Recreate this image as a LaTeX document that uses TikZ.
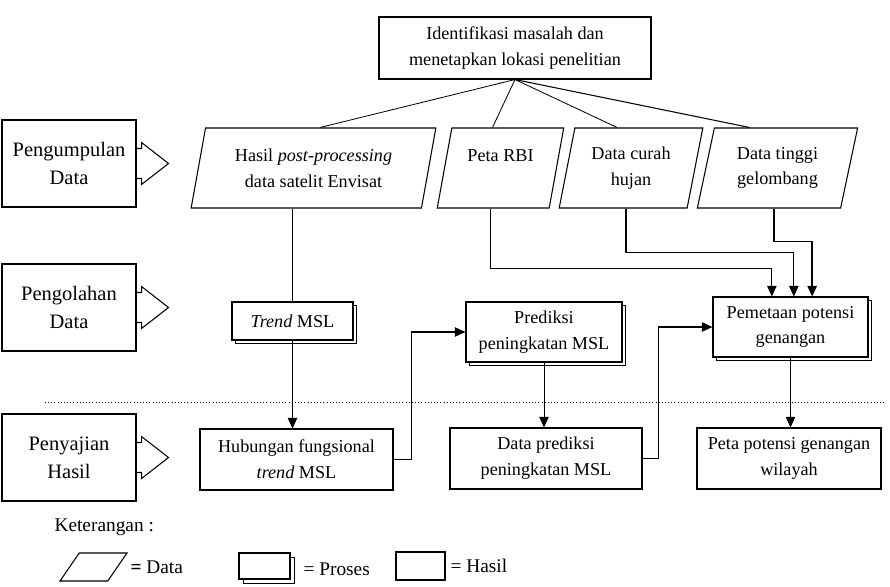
\documentclass[tikz,border=0pt]{standalone}
\usepackage{fontspec}
\setmainfont{Liberation Serif}
\usetikzlibrary{shapes.geometric,arrows.meta,shadows}

\begin{document}
\begin{tikzpicture}[x=0.03cm,y=-0.03cm,
        font=\fontsize{15.5}{22}\selectfont,
        every node/.style={align=center,inner sep=2pt},
        hasil/.style={draw,line width=0.9pt,fill=white},
        proses/.style={hasil,copy shadow={shadow xshift=0.1cm,shadow yshift=-0.1cm}},
        data/.style={draw,line width=0.9pt,trapezium,trapezium left angle=76,
            trapezium right angle=104,trapezium stretches=true,minimum height=2.4cm},
        tahap/.style={draw,line width=0.9pt,minimum width=4.02cm,minimum height=2.61cm,
            font=\fontsize{17.5}{24}\selectfont},
        ket/.style={anchor=west,font=\fontsize{16.5}{20}\selectfont},
        panah/.style={-{Triangle[length=9pt,width=8pt]},line width=0.9pt}]
        \useasboundingbox (0,0) rectangle (890,587);

        % tahapan
        \node[tahap] (kumpul) at (69,163.5) {Pengumpulan\\Data};
        \node[tahap] (olah) at (69,307.5) {Pengolahan\\Data};
        \node[tahap] (saji) at (69,457.5) {Penyajian\\Hasil};
        \foreach \s in {kumpul,olah,saji}
            \draw[line width=0.9pt] (\s.east) ++(0,-15) -- ++(5,0) -- ++(0,-6)
                -- ++(27,21) -- ++(-27,21) -- ++(0,-6) -- ++(-5,0);

        \draw[dotted,line width=0.7pt] (45,402) -- (885,402);

        % identifikasi dan data
        \node[hasil,minimum width=8.16cm,minimum height=1.86cm] (ident) at (515,48)
            {Identifikasi masalah dan\\menetapkan lokasi penelitian};
        \node[data,minimum width=7.35cm] (D1) at (313.5,168)
            {Hasil \textit{post-processing}\\data satelit Envisat};
        \node[data,minimum width=3.81cm] (D2) at (500.5,168) {Peta RBI\\\mbox{}};
        \node[data,minimum width=4.32cm] (D3) at (631,168) {Data curah\\hujan};
        \node[data,minimum width=4.83cm] (D4) at (777.5,168) {Data tinggi\\gelombang};

        \draw[line width=0.7pt] (ident.south) -- ([xshift=0.2cm]D1.north);
        \draw[line width=0.7pt] (ident.south) -- ([xshift=-0.24cm]D2.north);
        \draw[line width=0.7pt] (ident.south) -- ([xshift=-0.42cm]D3.north);
        \draw[line width=0.9pt] (ident.south) -- ([xshift=-0.84cm]D4.north);

        % pengolahan
        \node[proses,minimum width=3.63cm,minimum height=1.14cm] (trend) at (292.5,321)
            {\textit{Trend} MSL};
        \node[proses,minimum width=4.68cm,minimum height=1.8cm] (prediksi) at (544,332)
            {Prediksi\\peningkatan MSL};
        \node[proses,minimum width=4.65cm,minimum height=1.8cm] (pemetaan) at (790.5,327)
            {Pemetaan potensi\\genangan};

        % hasil
        \node[hasil,minimum width=5.79cm,minimum height=1.83cm] (hubungan) at (296.5,459.5)
            {Hubungan fungsional\\\textit{trend} MSL};
        \node[hasil,minimum width=5.76cm,minimum height=1.83cm] (dataprediksi) at (546,458.5)
            {Data prediksi\\peningkatan MSL};
        \node[hasil,minimum width=5.52cm,minimum height=1.83cm] (peta) at (789,458.5)
            {Peta potensi genangan\\wilayah};

        \draw[line width=0.7pt] (trend.north |- D1.south) -- (trend.north);
        \draw[panah,line width=0.7pt] (trend.south) -- (trend.south |- hubungan.north);
        \draw[panah] (hubungan.east) -- ++(18,0) |- (prediksi.west);
        \draw[panah,line width=0.7pt] (prediksi.south) -- (prediksi.south |- dataprediksi.north);
        \draw[panah] (dataprediksi.east) -- ++(16,0) |- (pemetaan.west);
        \draw[panah,line width=0.7pt] (pemetaan.south) -- (pemetaan.south |- peta.north);

        \draw[panah] ([xshift=-0.3cm]D2.south) -- ++(0,60) -| ([xshift=-0.56cm]pemetaan.north);
        \draw[panah] ([xshift=-0.15cm]D3.south) -- ++(0,44) -| ([xshift=0.1cm]pemetaan.north);
        \draw[panah,line width=1.4pt] ([xshift=-0.1cm]D4.south) -- ++(0,33) -| ([xshift=0.65cm]pemetaan.north);

        % keterangan
        \node[ket] (ket) at (52,527) {Keterangan :};
        \node[data,trapezium left angle=56,trapezium right angle=124,minimum width=2.01cm,
            minimum height=0.84cm] (kData) at (93.5,567) {};
        \node[ket] (tData) at (128,567) {\textbf{=} Data};
        \node[hasil,minimum width=1.53cm,minimum height=0.78cm,
            copy shadow={shadow xshift=0.13cm,shadow yshift=-0.13cm}] (kProses) at (264.5,566) {};
        \node[ket] (tProses) at (301,569) {= Proses};
        \node[hasil,minimum width=1.47cm,minimum height=0.84cm] (kHasil) at (420.5,566) {};
        \node[ket] (tHasil) at (448,566) {= Hasil};
    \end{tikzpicture}
\end{document}
